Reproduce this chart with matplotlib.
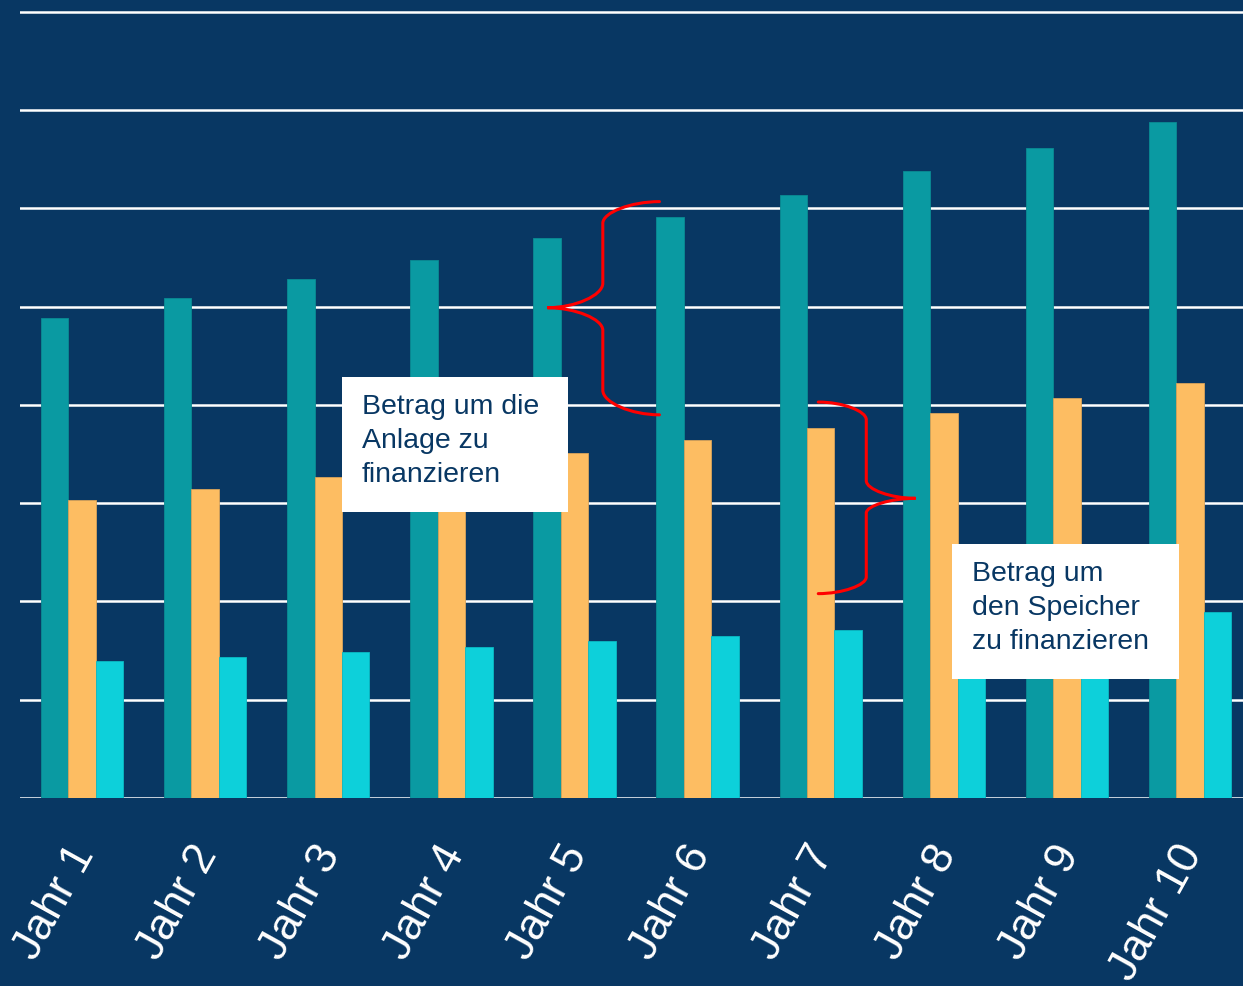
import matplotlib
matplotlib.use("Agg")
import matplotlib.pyplot as plt
import matplotlib.transforms as mtransforms
import numpy as np
from matplotlib.path import Path
from matplotlib.patches import PathPatch, Rectangle

# data (gridline units)
years = ["Jahr 1", "Jahr 2", "Jahr 3", "Jahr 4", "Jahr 5",
         "Jahr 6", "Jahr 7", "Jahr 8", "Jahr 9", "Jahr 10"]
teal_vals = [4.89, 5.09, 5.28, 5.48, 5.70, 5.91, 6.14, 6.38, 6.62, 6.88]
orange_vals = [3.03, 3.14, 3.27, 3.38, 3.51, 3.64, 3.77, 3.92, 4.07, 4.22]
cyan_vals = [1.39, 1.44, 1.49, 1.54, 1.60, 1.65, 1.71, 1.76, 1.82, 1.89]

BG = "#083763"
TEAL = "#0a9aa2"
ORANGE = "#fdbd62"
CYAN = "#0dd0da"
RED = "#ff0000"


def brace(ax, x_end, x_mid, x_tip, y_top, y_v1, y_v2, y_tip, y_v3, y_v4, y_bot):
    """curly brace: ends at x_end, vertical strokes at x_mid, tip at x_tip"""
    xe = (x_end + x_mid) / 2
    xt = (x_tip + x_mid) / 2
    verts = [(x_end, y_top), (xe, y_top), (x_mid, (y_top + y_v1) / 2), (x_mid, y_v1),
             (x_mid, y_v2),
             (x_mid, (y_v2 + y_tip) / 2), (xt, y_tip), (x_tip, y_tip),
             (xt, y_tip), (x_mid, (y_tip + y_v3) / 2), (x_mid, y_v3),
             (x_mid, y_v4),
             (x_mid, (y_v4 + y_bot) / 2), (xe, y_bot), (x_end, y_bot)]
    codes = [Path.MOVETO, Path.CURVE4, Path.CURVE4, Path.CURVE4,
             Path.LINETO,
             Path.CURVE4, Path.CURVE4, Path.CURVE4,
             Path.CURVE4, Path.CURVE4, Path.CURVE4,
             Path.LINETO,
             Path.CURVE4, Path.CURVE4, Path.CURVE4]
    ax.add_patch(PathPatch(Path(verts, codes), fill=False, edgecolor=RED,
                           linewidth=2.2, zorder=6, capstyle="round"))


fig = plt.figure(figsize=(12.43, 9.86), dpi=100, facecolor=BG)
ax = fig.add_axes([20 / 1243, 1 - 798 / 986, 1 - 20 / 1243, 798 / 986])
ax.set_facecolor(BG)

x = np.arange(len(years))
w = 0.223
ax.bar(x - w, teal_vals, w, color=TEAL, edgecolor="#0a8b93", linewidth=0.6, zorder=3)
ax.bar(x, orange_vals, w, color=ORANGE, edgecolor="#d9a35a", linewidth=0.6, zorder=3)
ax.bar(x + w, cyan_vals, w, color=CYAN, edgecolor="#0bbac4", linewidth=0.6, zorder=3)

ax.set_xlim(-0.504, 9.43)
ax.set_ylim(0, 8.122)
ax.set_yticks(np.arange(0, 9))
ax.yaxis.grid(True, color="white", linewidth=1.8, zorder=1)
ax.set_axisbelow(True)
ax.tick_params(axis="y", length=0, labelleft=False)
ax.tick_params(axis="x", length=0, pad=29)
for s in ax.spines.values():
    s.set_visible(False)

ax.set_xticks(x)
ax.set_xticklabels(years, rotation=61, ha="right", rotation_mode="anchor",
                   fontsize=32, color="white", family="Liberation Sans")
shift = mtransforms.ScaledTranslation(-15 / 100, 0, fig.dpi_scale_trans)
for lbl in ax.get_xticklabels():
    lbl.set_transform(lbl.get_transform() + shift)

# annotation boxes
ax.add_patch(Rectangle((2.11, 2.91), 1.84, 1.38, facecolor="white",
                       edgecolor="none", zorder=5))
ax.text(2.27, 4.11, "Betrag um die\nAnlage zu\nfinanzieren", va="top", ha="left",
        fontsize=20.5, color=BG, family="Liberation Sans", linespacing=1.4, zorder=6)

ax.add_patch(Rectangle((7.07, 1.21), 1.84, 1.38, facecolor="white",
                       edgecolor="none", zorder=5))
ax.text(7.23, 2.41, "Betrag um\nden Speicher\nzu finanzieren", va="top", ha="left",
        fontsize=20.5, color=BG, family="Liberation Sans", linespacing=1.4, zorder=6)

# red braces
brace(ax, 4.69, 4.23, 3.78, 6.07, 5.85, 5.24, 4.99, 4.76, 4.15, 3.90)
brace(ax, 5.98, 6.37, 6.77, 4.03, 3.85, 3.23, 3.05, 2.90, 2.25, 2.08)

fig.savefig("out.png", dpi=100, facecolor=BG)
